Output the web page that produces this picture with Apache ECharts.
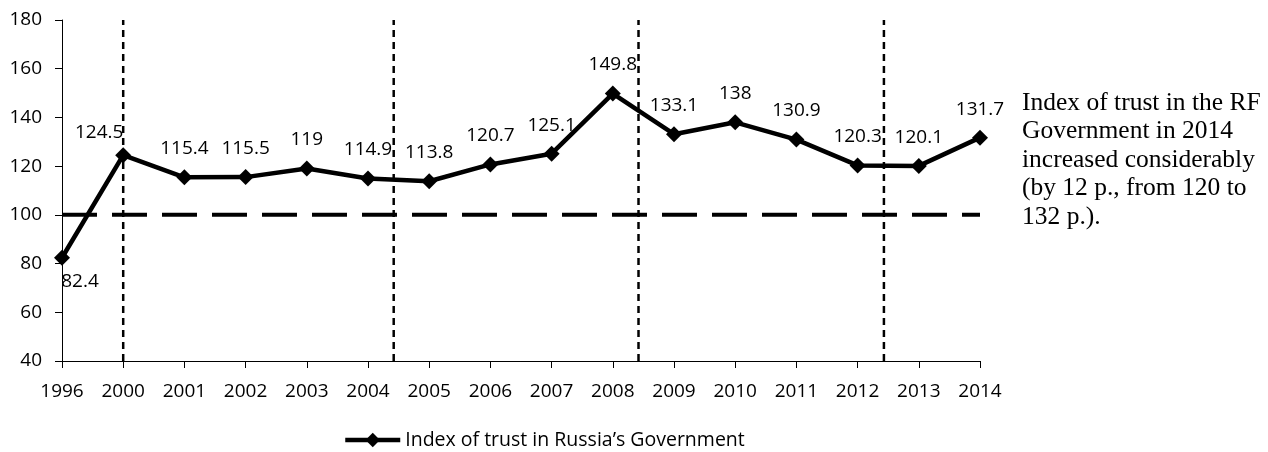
<!DOCTYPE html>
<html>
<head>
<meta charset="utf-8">
<script src="https://cdn.jsdelivr.net/npm/echarts@6/dist/echarts.min.js"></script>
<style>
  html, body { margin: 0; padding: 0; background: #ffffff; }
  #chart { width: 1268px; height: 452px; }
</style>
</head>
<body>
<div id="chart"></div>
<script>
// Years on the category axis
const years = ['1996', '2000', '2001', '2002', '2003', '2004', '2005', '2006',
  '2007', '2008', '2009', '2010', '2011', '2012', '2013', '2014'];
// Index of trust in Russia's Government
const trustIndex = [82.4, 124.5, 115.4, 115.5, 119, 114.9, 113.8, 120.7,
  125.1, 149.8, 133.1, 138, 130.9, 120.3, 120.1, 131.7];
// Period separators, in category-index units
const dividers = [1, 5.42, 9.42, 13.43];
// Reference level
const baseline = 100;
// Value axis range
const yMin = 40, yMax = 180, yStep = 20;

const seriesName = 'Index of trust in Russia\u2019s Government';
const noteLines = [
  'Index of trust in the RF',
  'Government in 2014',
  'increased considerably',
  '(by 12 p., from 120 to',
  '132 p.).'
];

const FONT = '"Open Sans", sans-serif';

const dividerSeries = dividers.map(function (x) {
  return {
    type: 'line',
    xAxisIndex: 1,
    data: [[x, yMin], [x, yMax]],
    symbol: 'none',
    silent: true,
    z: 1,
    lineStyle: { color: '#000', width: 2.5, type: [7, 5] }
  };
});

const labelled = trustIndex.map(function (v, i) {
  if (i === 0) {
    return { value: v, label: { position: 'bottom', offset: [18, -5] } };
  }
  if (i === 1) {
    return { value: v, label: { offset: [-24, 6] } };
  }
  return v;
});

const chart = echarts.init(document.getElementById('chart'), null, { renderer: 'canvas' });
chart.setOption({
  animation: false,
  backgroundColor: '#ffffff',
  grid: { left: 62, right: 288, top: 20, bottom: 91, containLabel: false },
  xAxis: [{
    type: 'category',
    data: years,
    boundaryGap: false,
    axisLine: { lineStyle: { color: '#000', width: 1 } },
    axisTick: { show: true, length: 7, alignWithLabel: true, lineStyle: { color: '#000' } },
    axisLabel: { color: '#000', fontFamily: FONT, fontSize: 19, margin: 21, interval: 0 },
    splitLine: { show: false }
  }, {
    type: 'value',
    min: 0,
    max: years.length - 1,
    show: false
  }],
  yAxis: {
    type: 'value',
    min: yMin,
    max: yMax,
    interval: yStep,
    axisLine: { show: true, lineStyle: { color: '#000', width: 1 } },
    axisTick: { show: true, length: 7, lineStyle: { color: '#000' } },
    axisLabel: { color: '#000', fontFamily: FONT, fontSize: 19, margin: 20 },
    splitLine: { show: false }
  },
  legend: {
    data: [seriesName],
    left: 338,
    top: 425,
    itemWidth: 55,
    itemHeight: 18,
    itemGap: 10,
    lineStyle: { width: 4.5 },
    textStyle: { color: '#000', fontFamily: FONT, fontSize: 19.5 }
  },
  graphic: [{
    type: 'text',
    left: 1022,
    top: 89,
    style: {
      text: noteLines.join('\n'),
      fill: '#000',
      font: '25.5px "Liberation Serif", "Times New Roman", serif',
      lineHeight: 28.5
    }
  }],
  series: [{
    type: 'line',
    xAxisIndex: 1,
    data: [[0, baseline], [years.length - 1, baseline]],
    symbol: 'none',
    silent: true,
    z: 1,
    lineStyle: { color: '#000', width: 4, type: [35, 15] }
  }].concat(dividerSeries).concat([{
    name: seriesName,
    type: 'line',
    data: labelled,
    z: 5,
    clip: false,
    symbol: 'diamond',
    symbolSize: 16,
    itemStyle: { color: '#000' },
    lineStyle: { color: '#000', width: 4.5 },
    label: {
      show: true,
      position: 'top',
      distance: 11,
      color: '#000',
      fontFamily: FONT,
      fontSize: 19
    }
  }])
});
</script>
</body>
</html>
